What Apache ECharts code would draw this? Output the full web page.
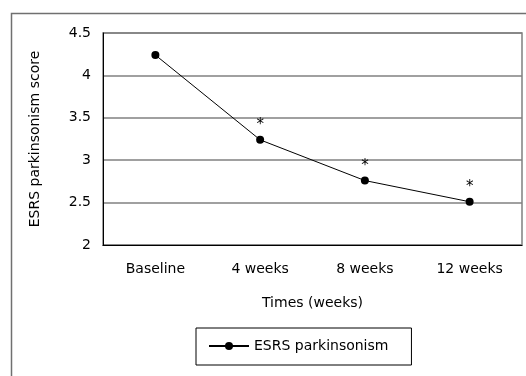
<!DOCTYPE html>
<html>
<head>
<meta charset="utf-8">
<script src="https://cdn.jsdelivr.net/npm/echarts@6/dist/echarts.min.js"></script>
<style>html,body{margin:0;padding:0;background:#fff}#c{width:526px;height:376px}</style>
</head>
<body>
<div id="c"></div>
<script>
const categories = ['Baseline', '4 weeks', '8 weeks', '12 weeks'];
const scores = [4.24, 3.24, 2.76, 2.51];
const marks = ['', '*', '*', '*'];
const seriesName = 'ESRS parkinsonism';
const yTitle = 'ESRS parkinsonism score';
const xTitle = 'Times (weeks)';

const FONT = 'DejaVu Sans';
const FS = 14;
const chart = echarts.init(document.getElementById('c'), null, {renderer: 'canvas'});
chart.setOption({
  animation: false,
  backgroundColor: '#fff',
  textStyle: {fontFamily: FONT, color: '#000'},
  graphic: [{
    type: 'rect', left: 9, top: 11, silent: true,
    shape: {x: 0, y: 0, width: 540, height: 400},
    style: {fill: 'none', stroke: '#707070', lineWidth: 1.5}
  }],
  grid: {left: 103, top: 33, right: 4, bottom: 131, show: true, borderColor: '#808080', borderWidth: 1.5, backgroundColor: 'transparent'},
  legend: {
    data: [seriesName], left: 196, top: 328,
    borderColor: '#000', borderWidth: 1, padding: [11, 23, 12, 12],
    itemWidth: 40, itemHeight: 10, itemGap: 6,
    textStyle: {fontFamily: FONT, fontSize: FS, color: '#000'}
  },
  xAxis: {
    type: 'category', data: categories, boundaryGap: true,
    axisLine: {lineStyle: {color: '#000', width: 1}},
    axisTick: {inside: true, length: 6, lineStyle: {color: '#000'}},
    axisLabel: {margin: 17, fontSize: FS, color: '#000', fontFamily: FONT},
    name: xTitle, nameLocation: 'middle', nameGap: 51,
    nameTextStyle: {fontSize: FS, color: '#000', fontFamily: FONT}
  },
  yAxis: {
    type: 'value', min: 2, max: 4.5, interval: 0.5,
    axisLine: {show: true, lineStyle: {color: '#000', width: 1}},
    axisTick: {show: false},
    splitLine: {lineStyle: {color: '#808080', width: 1.5}},
    axisLabel: {margin: 12, fontSize: FS, color: '#000', fontFamily: FONT},
    name: yTitle, nameLocation: 'middle', nameGap: 61,
    nameTextStyle: {fontSize: FS, color: '#000', fontFamily: FONT}
  },
  series: [{
    name: seriesName, type: 'line', data: scores,
    symbol: 'circle', symbolSize: 8,
    lineStyle: {color: '#000', width: 1},
    itemStyle: {color: '#000'},
    label: {show: true, position: 'top', distance: 3, fontSize: 15, color: '#000', fontFamily: FONT,
      formatter: p => marks[p.dataIndex]}
  }]
});
</script>
</body>
</html>
